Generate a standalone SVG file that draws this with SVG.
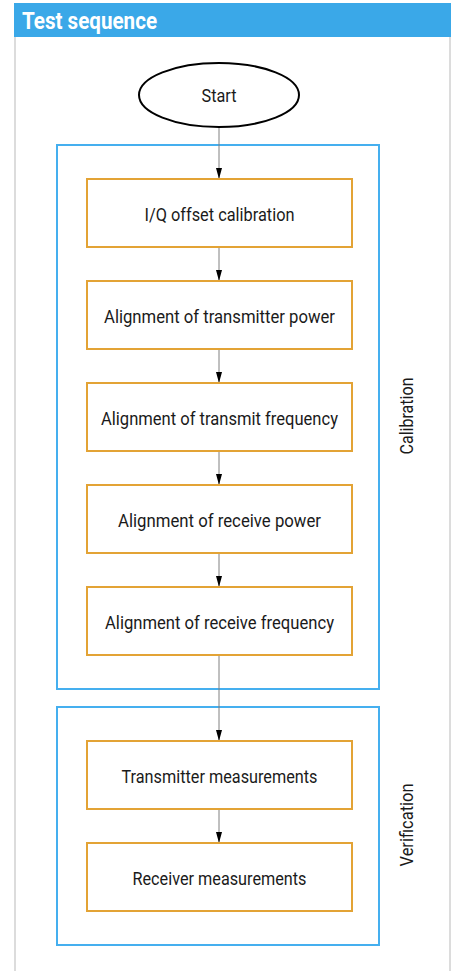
<svg xmlns="http://www.w3.org/2000/svg" width="451" height="971" viewBox="0 0 451 971">
<style>
.panel{stroke:#DCDCDC;stroke-width:2;fill:none}
.group{fill:none;stroke:#45AFEF;stroke-width:2}
.box{fill:#FFFFFF;stroke:#E3A335;stroke-width:2}
.lbl{font-family:"Liberation Sans Narrow","Roboto","Liberation Sans",sans-serif;font-size:18.5px;fill:#1A1A1A;text-anchor:middle}
.side{font-family:"Liberation Sans Narrow","Roboto","Liberation Sans",sans-serif;font-size:18.5px;fill:#1A1A1A;text-anchor:middle}
.conn{stroke:#808080;stroke-width:1;fill:none}
</style>
<defs>
<marker id="arr" viewBox="0 0 11 6" refX="11" refY="3" markerWidth="11" markerHeight="6" markerUnits="userSpaceOnUse" orient="auto">
<path d="M0,0 L11,3 L0,6 Z" fill="#000000"/>
</marker>
</defs>
<rect width="451" height="971" fill="#FFFFFF"/>
<g id="panel">
<line class="panel" x1="15" y1="37" x2="15" y2="971"/>
<line class="panel" x1="450" y1="37" x2="450" y2="971"/>
<rect x="14" y="3" width="437" height="34" fill="#3AA8E8"/>
<text x="22" y="29" font-family="'Liberation Sans Narrow','Roboto','Liberation Sans',sans-serif" font-size="24" font-weight="bold" fill="#FFFFFF" textLength="135" lengthAdjust="spacingAndGlyphs">Test sequence</text>
</g>
<g id="calibration">
<rect class="group" x="57" y="145" width="322" height="544"/>
<text class="side" transform="translate(413,416) rotate(-90)" textLength="77" lengthAdjust="spacingAndGlyphs">Calibration</text>
</g>
<g id="verification">
<rect class="group" x="57" y="707" width="322" height="238"/>
<text class="side" transform="translate(413,825) rotate(-90)" textLength="83" lengthAdjust="spacingAndGlyphs">Verification</text>
</g>
<g id="connectors">
<line class="conn" x1="219" y1="127" x2="219" y2="179" marker-end="url(#arr)"/>
<line class="conn" x1="219" y1="247" x2="219" y2="281" marker-end="url(#arr)"/>
<line class="conn" x1="219" y1="349" x2="219" y2="383" marker-end="url(#arr)"/>
<line class="conn" x1="219" y1="451" x2="219" y2="485" marker-end="url(#arr)"/>
<line class="conn" x1="219" y1="553" x2="219" y2="587" marker-end="url(#arr)"/>
<line class="conn" x1="219" y1="655" x2="219" y2="741" marker-end="url(#arr)"/>
<line class="conn" x1="219" y1="809" x2="219" y2="843" marker-end="url(#arr)"/>
</g>
<g id="start">
<ellipse cx="219" cy="95" rx="80" ry="32" fill="#FFFFFF" stroke="#000000" stroke-width="2"/>
<text class="lbl" x="219" y="102" textLength="35" lengthAdjust="spacingAndGlyphs">Start</text>
</g>
<g id="iq-offset">
<rect class="box" x="87" y="179" width="265" height="68"/>
<text class="lbl" x="219.5" y="220.5" textLength="150" lengthAdjust="spacingAndGlyphs">I/Q offset calibration</text>
</g>
<g id="tx-power">
<rect class="box" x="87" y="281" width="265" height="68"/>
<text class="lbl" x="219.5" y="322.5" textLength="231" lengthAdjust="spacingAndGlyphs">Alignment of transmitter power</text>
</g>
<g id="tx-frequency">
<rect class="box" x="87" y="383" width="265" height="68"/>
<text class="lbl" x="219.5" y="424.5" textLength="237" lengthAdjust="spacingAndGlyphs">Alignment of transmit frequency</text>
</g>
<g id="rx-power">
<rect class="box" x="87" y="485" width="265" height="68"/>
<text class="lbl" x="219.5" y="526.5" textLength="203" lengthAdjust="spacingAndGlyphs">Alignment of receive power</text>
</g>
<g id="rx-frequency">
<rect class="box" x="87" y="587" width="265" height="68"/>
<text class="lbl" x="219.5" y="628.5" textLength="229" lengthAdjust="spacingAndGlyphs">Alignment of receive frequency</text>
</g>
<g id="tx-measurements">
<rect class="box" x="87" y="741" width="265" height="68"/>
<text class="lbl" x="219.5" y="782.5" textLength="196" lengthAdjust="spacingAndGlyphs">Transmitter measurements</text>
</g>
<g id="rx-measurements">
<rect class="box" x="87" y="843" width="265" height="68"/>
<text class="lbl" x="219.5" y="884.5" textLength="174" lengthAdjust="spacingAndGlyphs">Receiver measurements</text>
</g>
</svg>
